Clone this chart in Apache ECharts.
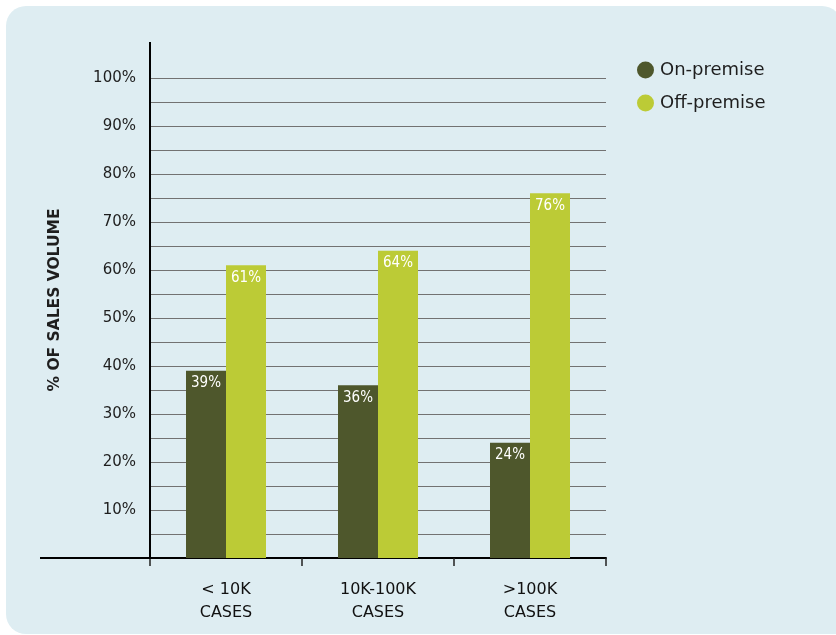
<!DOCTYPE html>
<html>
<head>
<meta charset="utf-8">
<title>% of sales volume by account size</title>
<script src="https://cdn.jsdelivr.net/npm/echarts@6/dist/echarts.min.js"></script>
<style>
  html, body { margin: 0; padding: 0; background: #ffffff; }
  #panel {
    position: absolute; left: 6px; top: 6px; width: 836px; height: 628px;
    background: #deedf2; border-radius: 20px 20px 0 20px;
  }
  #chart { position: absolute; left: 0; top: 0; width: 836px; height: 635px; }
</style>
</head>
<body>
<div id="panel"></div>
<div id="chart"></div>
<script>
// Account-size buckets and the share of sales volume per channel
const categories = ['< 10K\nCASES', '10K-100K\nCASES', '>100K\nCASES'];
const onPremise = [39, 36, 24];
const offPremise = [61, 64, 76];
const seriesNames = ['On-premise', 'Off-premise'];
const yTicks = [0, 10, 20, 30, 40, 50, 60, 70, 80, 90, 100];

const DARK = '#4e572c';
const LIGHT = '#bccb36';
const TEXT = '#1e1e1e';

const chart = echarts.init(document.getElementById('chart'), null, { renderer: 'canvas' });

// plot area edges (px)
const G = { left: 150, right: 606, top: 78, bottom: 558 };

const barLabel = {
  show: true,
  position: 'insideTop',
  distance: 5,
  color: '#ffffff',
  fontFamily: '"Liberation Sans Narrow", "DejaVu Sans Condensed", sans-serif',
  fontSize: 15,
  formatter: p => p.value + '%'
};

chart.setOption({
  animation: false,
  backgroundColor: 'transparent',
  grid: { left: G.left, right: 836 - G.right, top: G.top, bottom: 635 - G.bottom },
  legend: {
    orient: 'vertical',
    left: 632, top: 56,
    icon: 'circle',
    itemWidth: 17, itemHeight: 17, itemGap: 15,
    data: seriesNames,
    textStyle: { color: TEXT, fontSize: 18, fontFamily: '"DejaVu Sans", sans-serif', padding: [0, 0, 0, 1] }
  },
  xAxis: {
    type: 'category',
    data: categories,
    axisLine: { show: true, lineStyle: { color: '#000', width: 2 } },
    axisTick: { show: true, length: 8, lineStyle: { color: '#222', width: 1.5 } },
    axisLabel: {
      color: '#111', fontSize: 16, lineHeight: 23, margin: 20,
      fontFamily: '"DejaVu Sans", sans-serif'
    },
    splitLine: { show: false }
  },
  yAxis: {
    type: 'value',
    min: 0, max: 100, interval: 5,
    axisLine: { show: false },
    axisTick: { show: false },
    axisLabel: {
      color: TEXT, fontSize: 15, margin: 14,
      fontFamily: '"DejaVu Sans", sans-serif',
      formatter: v => (v > 0 && yTicks.includes(v)) ? v + '%' : ''
    },
    splitLine: {
      show: true,
      lineStyle: { color: '#727272', width: 1 }
    }
  },
  series: [
    {
      name: seriesNames[0], type: 'bar', data: onPremise,
      barWidth: 40, barGap: '0%',
      itemStyle: { color: DARK },
      label: barLabel
    },
    {
      name: seriesNames[1], type: 'bar', data: offPremise,
      barWidth: 40, barGap: '0%',
      itemStyle: { color: LIGHT },
      label: barLabel
    }
  ],
  graphic: [
    // vertical axis line running above the 100% line
    { type: 'line', z: 10, shape: { x1: G.left, y1: 42, x2: G.left, y2: G.bottom + 1 },
      style: { stroke: '#000', lineWidth: 2 } },
    // baseline continuing to the left of the vertical axis
    { type: 'line', z: 10, shape: { x1: 40, y1: G.bottom, x2: G.left, y2: G.bottom },
      style: { stroke: '#000', lineWidth: 2 } },
    // vertical axis title
    { type: 'text', z: 10, x: 55, y: 300, rotation: Math.PI / 2,
      style: { text: '% OF SALES VOLUME', fill: TEXT, fontSize: 15.5, fontWeight: 'bold',
               fontFamily: '"DejaVu Sans", sans-serif', align: 'center', verticalAlign: 'middle' } }
  ]
});
</script>
</body>
</html>
